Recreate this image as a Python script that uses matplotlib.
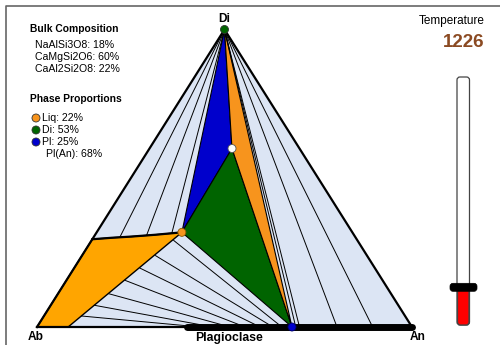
import numpy as np
import matplotlib.pyplot as plt
from matplotlib.patches import Polygon, FancyBboxPatch, Circle

# bulk composition (fractions of Ab, Di, An end-members)
bulk_names = ["NaAlSi3O8", "CaMgSi2O6", "CaAl2Si2O8"]
bulk_ab, bulk_di, bulk_an = 0.18, 0.60, 0.22

# phase proportions at this temperature
phase_names = ["Liq", "Di", "Pl"]
phase_frac = [0.22, 0.53, 0.25]
pl_an = 0.68
temperature = 1226
t_min, t_max = 1150, 1650

# cotectic curve (An, Di) from the Ab-Di join to the liquid point
cot_an = [0.0, 0.05, 0.10, 0.16]
cot_di = [0.295, 0.300, 0.304, 0.310]
# plagioclase liquidus meets the Ab-An join here
liq_base_an = 0.083

# Di + Liq tie lines end on the cotectic (An, Di)
di_liq_an = [0.07, 0.138, 0.202]
di_liq_di = [0.302, 0.309, 0.315]

# Liq + Pl tie lines: liquid (An, Di) -> plagioclase An
lp_liq_an = [0.100, 0.1165, 0.135, 0.156, 0.1755, 0.196, 0.219]
lp_liq_di = [0.037, 0.073, 0.112, 0.157, 0.198, 0.240, 0.291]
lp_pl_an = [0.435, 0.469, 0.515, 0.555, 0.595, 0.629, 0.653]

# Di + Pl tie lines: plagioclase An on the base
dp_pl_an = [0.69, 0.70, 0.80, 0.895]

# plagioclase solid-solution range drawn on the base
plag_range = [0.40, 1.0]

# triangle corners in pixel space
AB = (37.0, 327.0)
AN = (412.0, 327.0)
DI = (224.5, 29.5)


def tern(an, di):
    an = np.asarray(an, dtype=float)
    di = np.asarray(di, dtype=float)
    ab = 1 - an - di
    x = ab * AB[0] + an * AN[0] + di * DI[0]
    y = ab * AB[1] + an * AN[1] + di * DI[1]
    return x, y


# liquid composition from mass balance
f_liq, f_di, f_pl = phase_frac
liq_di = (bulk_di - f_di) / f_liq
liq_an = (bulk_an - f_pl * pl_an) / f_liq

bx, by = tern(bulk_an, bulk_di)
lx, ly = tern(liq_an, liq_di)
px, py = tern(pl_an, 0)

fig = plt.figure(figsize=(5, 3.45), dpi=100)
ax = fig.add_axes([0, 0, 1, 1])
ax.set_xlim(0, 500)
ax.set_ylim(345, 0)
ax.axis("off")

# frame
ax.plot([6, 6, 500], [345, 6, 6], color="#666666", lw=1.2, zorder=0)

# whole triangle
ax.add_patch(Polygon([AB, AN, DI], closed=True, fc="#dce5f4", ec="none", zorder=1))

# liquid field
cx, cy = tern(cot_an + [liq_an], cot_di + [liq_di])
sx, sy = tern(liq_base_an, 0)
liq_poly = [AB] + list(zip(cx, cy)) + [(sx, sy)]
ax.add_patch(Polygon(liq_poly, closed=True, fc="#ffa500", ec="black", lw=1.0, zorder=2))
ax.plot(cx, cy, color="black", lw=1.6, zorder=4)

# three-phase triangle split at the bulk point
ax.add_patch(Polygon([DI, (lx, ly), (bx, by)], closed=True, fc="#0000cc", ec="black", lw=0.8, zorder=2))
ax.add_patch(Polygon([(lx, ly), (bx, by), (px, py)], closed=True, fc="#006400", ec="black", lw=0.8, zorder=2))
ax.add_patch(Polygon([DI, (bx, by), (px, py)], closed=True, fc="#f7941d", ec="black", lw=0.8, zorder=2))

# tie lines
ex, ey = tern(di_liq_an, di_liq_di)
for x, y in zip(ex, ey):
    ax.plot([DI[0], x], [DI[1], y], color="black", lw=0.7, zorder=3)

qx, qy = tern(lp_liq_an, lp_liq_di)
rx, ry = tern(lp_pl_an, [0] * len(lp_pl_an))
for x0, y0, x1, y1 in zip(qx, qy, rx, ry):
    ax.plot([x0, x1], [y0, y1], color="black", lw=0.7, zorder=3)

dx, dy = tern(dp_pl_an, [0] * len(dp_pl_an))
for x, y in zip(dx, dy):
    ax.plot([DI[0], x], [DI[1], y], color="black", lw=0.7, zorder=3)

# triangle outline and plagioclase bar
ax.plot([AB[0], DI[0], AN[0]], [AB[1], DI[1], AN[1]], color="black", lw=1.6, zorder=4)
ax.plot([AB[0], AN[0]], [AB[1], AN[1]], color="black", lw=1.6, zorder=4)
gx, gy = tern(plag_range, [0, 0])
ax.plot(gx, gy, color="black", lw=5, solid_capstyle="round", zorder=5)

# phase points
ax.add_patch(Circle(DI, 4, fc="#006400", ec="#333333", lw=0.6, zorder=6))
ax.add_patch(Circle((lx, ly), 4, fc="#f7941d", ec="#8a5a00", lw=0.6, zorder=6))
ax.add_patch(Circle((bx, by), 4, fc="white", ec="#555555", lw=0.6, zorder=6))
ax.add_patch(Circle((px, py), 4, fc="#0000cc", ec="#000066", lw=0.6, zorder=6))

font = "Liberation Sans"
ax.text(DI[0], 19, "Di", ha="center", va="center", fontsize=8.6, fontweight="bold", family=font)
ax.text(36, 337, "Ab", ha="center", va="center", fontsize=8.6, fontweight="bold", family=font)
ax.text(418, 337, "An", ha="center", va="center", fontsize=8.6, fontweight="bold", family=font)
ax.text(229, 338, "Plagioclase", ha="center", va="center", fontsize=8.8, fontweight="bold", family=font)

# bulk composition panel
ax.text(30, 29, "Bulk Composition", ha="left", va="center", fontsize=7.4, fontweight="bold", family=font)
bulk_vals = [bulk_ab, bulk_di, bulk_an]
for i, (name, v) in enumerate(zip(bulk_names, bulk_vals)):
    ax.text(35, 45.5 + 11.7 * i, f"{name}: {v * 100:.0f}%", ha="left", va="center",
            fontsize=7.6, family=font)

# phase proportions panel
ax.text(30, 99, "Phase Proportions", ha="left", va="center", fontsize=7.4, fontweight="bold", family=font)
phase_cols = ["#f7941d", "#006400", "#0000cc"]
for i, (name, v, c) in enumerate(zip(phase_names, phase_frac, phase_cols)):
    y = 118 + 12 * i
    ax.add_patch(Circle((36, y), 4, fc=c, ec="#333333", lw=0.6, zorder=6))
    ax.text(42, y, f"{name}: {v * 100:.0f}%", ha="left", va="center", fontsize=7.6, family=font)
ax.text(45.5, 154, f"Pl(An): {pl_an * 100:.0f}%", ha="left", va="center", fontsize=7.6, family=font)

# temperature readout and slider
ax.text(452, 21, "Temperature", ha="center", va="center", fontsize=8.5, family=font)
ax.text(484.5, 42.5, f"{temperature}", ha="right", va="center", fontsize=13.5,
        fontweight="bold", color="#8b4a22", family=font)

tube_top, tube_bot = 77, 325
ax.add_patch(FancyBboxPatch((457, tube_top), 12.5, tube_bot - tube_top,
                            boxstyle="round,pad=0,rounding_size=3", fc="white", ec="#444444", lw=0.9, zorder=2))
knob_y = tube_bot - (temperature - t_min) / (t_max - t_min) * (tube_bot - tube_top)
ax.add_patch(FancyBboxPatch((457.5, knob_y), 11.5, tube_bot - knob_y,
                            boxstyle="round,pad=0,rounding_size=3", fc="#ff0000", ec="#444444", lw=0.9, zorder=3))
ax.add_patch(FancyBboxPatch((450, knob_y - 4), 27, 8,
                            boxstyle="round,pad=0,rounding_size=3", fc="black", ec="black", lw=0.5, zorder=4))

fig.savefig("out.png", dpi=100)
